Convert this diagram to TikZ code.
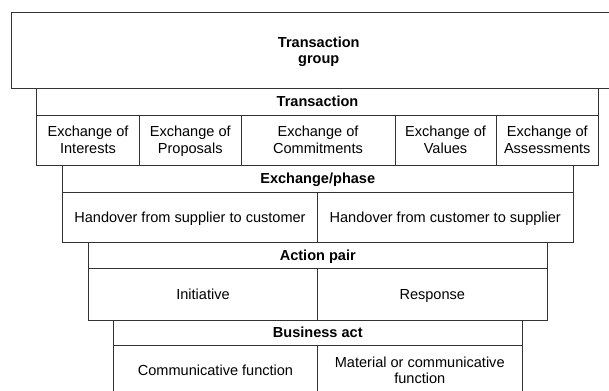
\documentclass[tikz,border=0pt]{standalone}
\usepackage{fontspec}
\setmainfont{Liberation Sans}
\newcommand\cellfont{\fontsize{14.6pt}{16pt}\selectfont}
\newcommand\sline[1]{#1\rule[-3pt]{0pt}{16pt}}
\tikzset{
  cell/.style={draw=black!80, line width=1bp, anchor=north west, inner sep=0pt,
    align=center, font=\cellfont, text=black},
  hdr/.style={cell, font=\cellfont\bfseries}
}
\begin{document}
\begin{tikzpicture}[x=1bp,y=-1bp]
\useasboundingbox (0,0) rectangle (609,390);
\fill[white] (0,0) rectangle (609,390);
% Transaction group
\node[hdr, minimum width=615.5bp, minimum height=76bp] (group) at (10.5,12) {\sline{Transaction}\\\sline{group}};
% Transaction
\node[hdr, minimum width=562bp, minimum height=26.5bp] (trans) at (36,88) {\sline{Transaction}};
\node[cell, minimum width=103bp, minimum height=50.5bp] (int) at (36,114.5) {\sline{Exchange of}\\\sline{Interests}};
\node[cell, minimum width=101.5bp, minimum height=50.5bp] (prop) at (139,114.5) {\sline{Exchange of}\\\sline{Proposals}};
\node[cell, minimum width=154bp, minimum height=50.5bp] (comm) at (240.5,114.5) {\sline{Exchange of}\\\sline{Commitments}};
\node[cell, minimum width=101bp, minimum height=50.5bp] (val) at (394.5,114.5) {\sline{Exchange of}\\\sline{Values}};
\node[cell, minimum width=102.5bp, minimum height=50.5bp] (ass) at (495.5,114.5) {\sline{Exchange of}\\\sline{Assessments}};
% Exchange/phase
\node[hdr, minimum width=510.5bp, minimum height=27bp] (exch) at (62,165) {\sline{Exchange/phase}};
\node[cell, minimum width=255bp, minimum height=50bp] (sc) at (62,192) {\sline{Handover from supplier to customer}};
\node[cell, minimum width=255.5bp, minimum height=50bp] (cs) at (317,192) {\sline{Handover from customer to supplier}};
% Action pair
\node[hdr, minimum width=458.5bp, minimum height=26bp] (pair) at (88,242) {\sline{Action pair}};
\node[cell, minimum width=229bp, minimum height=51.5bp] (ini) at (88,268) {\sline{Initiative}};
\node[cell, minimum width=229.5bp, minimum height=51.5bp] (resp) at (317,268) {\sline{Response}};
% Business act
\node[hdr, minimum width=408.5bp, minimum height=25.5bp] (act) at (113,319.5) {\sline{Business act}};
\node[cell, minimum width=204bp, minimum height=50bp] (cf) at (113,345) {\sline{Communicative function}};
\node[cell, minimum width=204.5bp, minimum height=50bp] (mf) at (317,345) {\sline{Material or communicative}\\\sline{function}};
\end{tikzpicture}
\end{document}
